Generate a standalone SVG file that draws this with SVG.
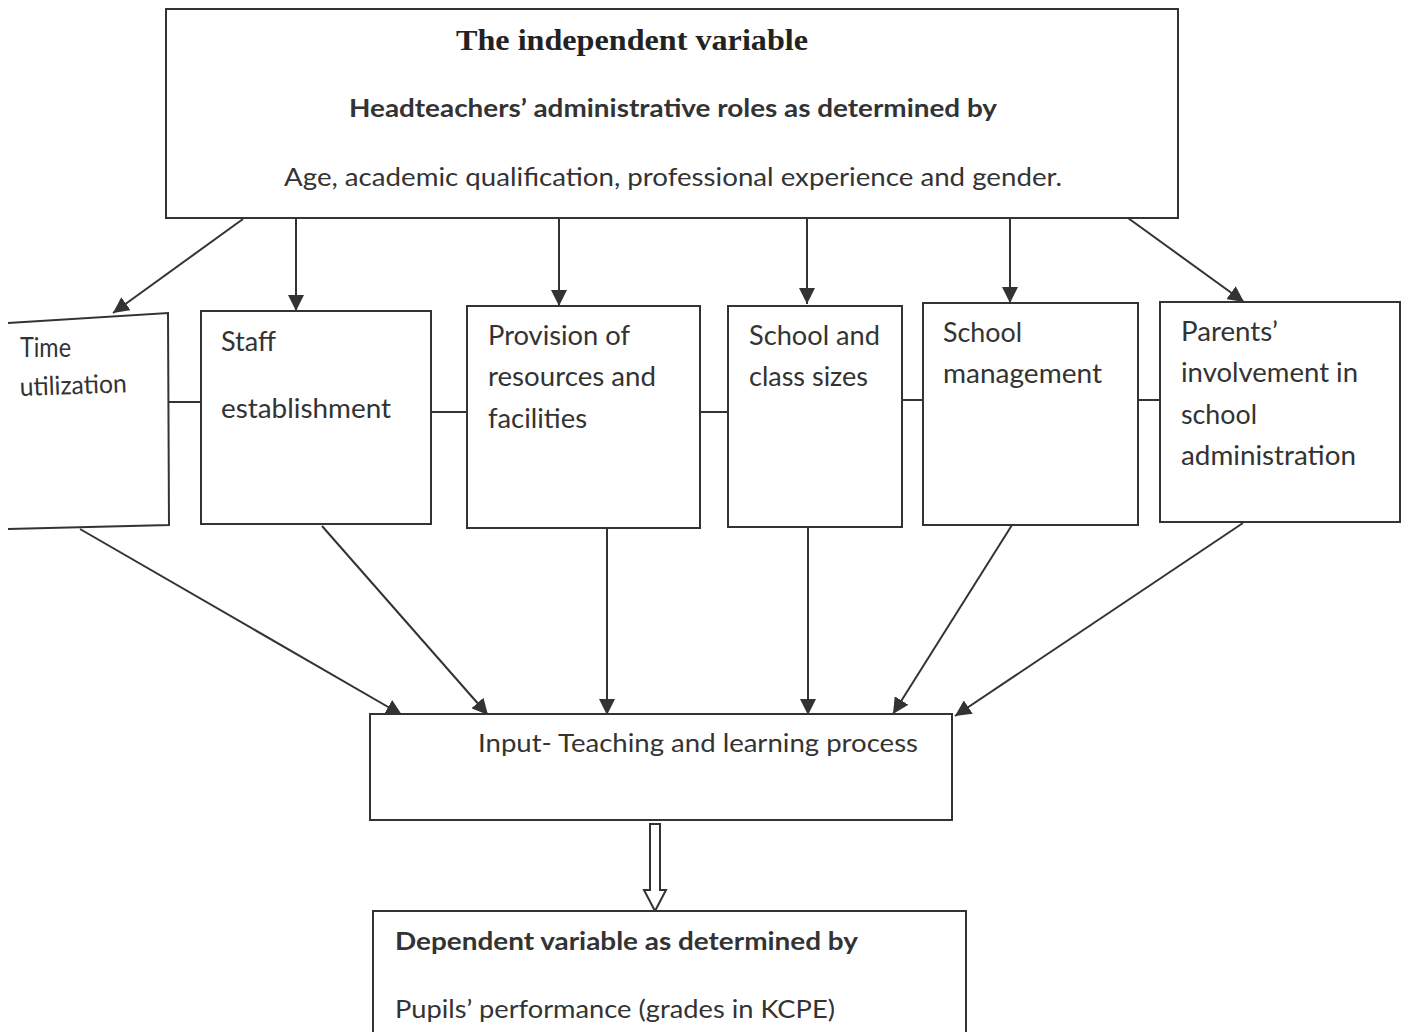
<svg xmlns="http://www.w3.org/2000/svg" width="1406" height="1032" viewBox="0 0 1406 1032">
<defs>
<style>
.box{fill:#fff;stroke:#333;stroke-width:2}
.ln{fill:none;stroke:#333;stroke-width:2}
.t{font-family:Lato,"Open Sans","Liberation Sans",sans-serif;font-size:25px;fill:#333}
.n{font-size:26px}
.b{font-weight:bold}
.title{font-family:"Liberation Serif","Times New Roman",serif;font-size:29px;font-weight:bold;fill:#222}
</style>
<marker id="ah2" viewBox="0 0 10 10" refX="10" refY="5" markerWidth="16" markerHeight="16" markerUnits="userSpaceOnUse" orient="auto">
<path d="M0,0 L10,5 L0,10 z" fill="#333"/>
</marker>
</defs>
<rect width="1406" height="1032" fill="#fff"/>

<g id="connectors">
<line class="ln" x1="243" y1="219" x2="113" y2="313" marker-end="url(#ah2)"/>
<line class="ln" x1="296" y1="219" x2="296" y2="311" marker-end="url(#ah2)"/>
<line class="ln" x1="559" y1="219" x2="559" y2="306" marker-end="url(#ah2)"/>
<line class="ln" x1="807" y1="219" x2="807" y2="304" marker-end="url(#ah2)"/>
<line class="ln" x1="1010" y1="218" x2="1010" y2="303" marker-end="url(#ah2)"/>
<line class="ln" x1="1128" y1="218" x2="1244" y2="302" marker-end="url(#ah2)"/>
<line class="ln" x1="168" y1="402" x2="201" y2="402"/>
<line class="ln" x1="431" y1="412" x2="467" y2="412"/>
<line class="ln" x1="700" y1="412" x2="728" y2="412"/>
<line class="ln" x1="902" y1="400" x2="923" y2="400"/>
<line class="ln" x1="1138" y1="400" x2="1160" y2="400"/>
<line class="ln" x1="80" y1="529" x2="402" y2="715" marker-end="url(#ah2)"/>
<line class="ln" x1="322" y1="526" x2="488" y2="715" marker-end="url(#ah2)"/>
<line class="ln" x1="607" y1="528" x2="607" y2="715" marker-end="url(#ah2)"/>
<line class="ln" x1="808" y1="528" x2="808" y2="715" marker-end="url(#ah2)"/>
<line class="ln" x1="1012" y1="525" x2="893" y2="714" marker-end="url(#ah2)"/>
<line class="ln" x1="1243" y1="523" x2="955" y2="716" marker-end="url(#ah2)"/>
<path class="ln" d="M650,824 L660,824 L660,890 L666,890 L655,911 L644,890 L650,890 Z" style="fill:#fff"/>
</g>

<g id="independent">
<rect class="box" x="166" y="9" width="1012" height="209"/>
<text class="title" x="632" y="50" text-anchor="middle" textLength="352" lengthAdjust="spacingAndGlyphs">The independent variable</text>
<text class="t b" x="673" y="117" text-anchor="middle" textLength="648" lengthAdjust="spacingAndGlyphs">Headteachers’ administrative roles as determined by</text>
<text class="t" x="673" y="186" text-anchor="middle" textLength="778" lengthAdjust="spacingAndGlyphs">Age, academic qualification, professional experience and gender.</text>
</g>

<g id="time">
<path class="box" d="M8,323 L168,313 L169,525 L8,529"/>
<text class="t n" x="20" y="357" textLength="51" lengthAdjust="spacingAndGlyphs">Time</text>
<text class="t n" x="20" y="396" transform="rotate(-2 20 396)" textLength="107" lengthAdjust="spacingAndGlyphs">utilization</text>
</g>

<g id="staff">
<rect class="box" x="201" y="311" width="230" height="213"/>
<text class="t n" x="221" y="351" textLength="55" lengthAdjust="spacingAndGlyphs">Staff</text>
<text class="t n" x="221" y="418" textLength="170" lengthAdjust="spacingAndGlyphs">establishment</text>
</g>

<g id="provision">
<rect class="box" x="467" y="306" width="233" height="222"/>
<text class="t n" x="488" y="345" textLength="142" lengthAdjust="spacingAndGlyphs">Provision of</text>
<text class="t n" x="488" y="386" textLength="168" lengthAdjust="spacingAndGlyphs">resources and</text>
<text class="t n" x="488" y="428" textLength="99" lengthAdjust="spacingAndGlyphs">facilities</text>
</g>

<g id="sizes">
<rect class="box" x="728" y="306" width="174" height="221"/>
<text class="t n" x="749" y="345" textLength="131" lengthAdjust="spacingAndGlyphs">School and</text>
<text class="t n" x="749" y="386" textLength="119" lengthAdjust="spacingAndGlyphs">class sizes</text>
</g>

<g id="management">
<rect class="box" x="923" y="303" width="215" height="222"/>
<text class="t n" x="943" y="342" textLength="79" lengthAdjust="spacingAndGlyphs">School</text>
<text class="t n" x="943" y="383" textLength="159" lengthAdjust="spacingAndGlyphs">management</text>
</g>

<g id="parents">
<rect class="box" x="1160" y="302" width="240" height="220"/>
<text class="t n" x="1181" y="341" textLength="97" lengthAdjust="spacingAndGlyphs">Parents’</text>
<text class="t n" x="1181" y="382" textLength="177" lengthAdjust="spacingAndGlyphs">involvement in</text>
<text class="t n" x="1181" y="424" textLength="76" lengthAdjust="spacingAndGlyphs">school</text>
<text class="t n" x="1181" y="465" textLength="175" lengthAdjust="spacingAndGlyphs">administration</text>
</g>

<g id="input">
<rect class="box" x="370" y="714" width="582" height="106"/>
<text class="t" x="478" y="752" textLength="440" lengthAdjust="spacingAndGlyphs">Input- Teaching and learning process</text>
</g>

<g id="dependent">
<rect class="box" x="373" y="911" width="593" height="130"/>
<text class="t b" x="395" y="950" textLength="463" lengthAdjust="spacingAndGlyphs">Dependent variable as determined by</text>
<text class="t" x="395" y="1018" textLength="440" lengthAdjust="spacingAndGlyphs">Pupils’ performance (grades in KCPE)</text>
</g>
</svg>
